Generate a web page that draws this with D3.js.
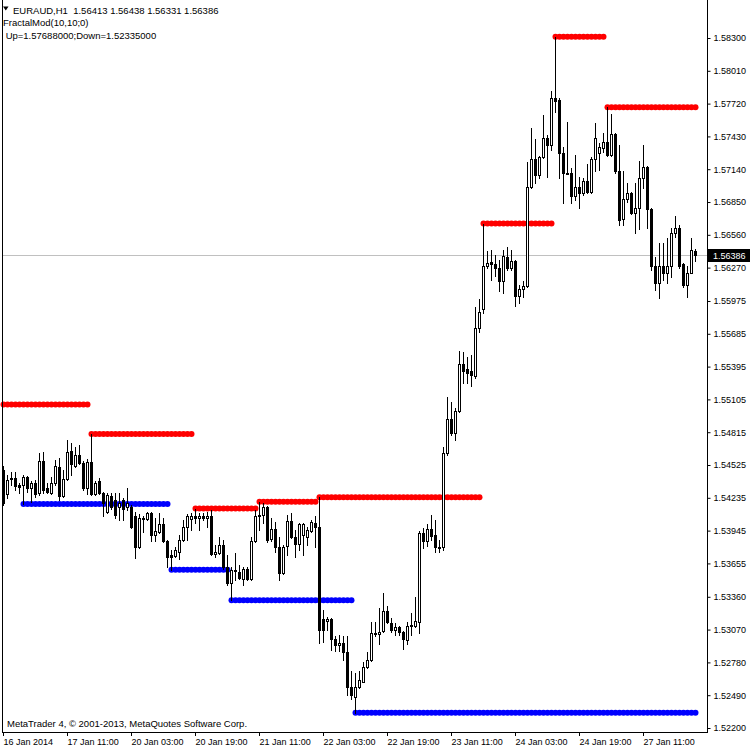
<!DOCTYPE html>
<html><head><meta charset="utf-8">
<script src="https://cdn.jsdelivr.net/npm/d3@7"></script>
<style>
body{margin:0;background:#fff}
svg{display:block}
text{font-family:"Liberation Sans",Arial,sans-serif;fill:#000;white-space:pre}
</style>
</head><body><svg id="c" width="750" height="750"></svg>
<script>
const symbolLabel = "EURAUD,H1";
const lastQuote = [1.56413, 1.56438, 1.56331, 1.56386];
const indicatorName = "FractalMod(10,10;0)";
const indicatorInfo = " Up=1.57688000;Down=1.52335000";
const copyright = "MetaTrader 4, \u00a9 2001-2013, MetaQuotes Software Corp.";
const currentPrice = 1.56386;

const open = [
1.5448,1.5427,1.5441,1.5441,1.5435,1.5435,1.5442,1.5432,1.5437,1.5428,
1.5456,1.5432,1.5428,1.5437,1.5451,1.5425,1.5440,1.5465,1.5452,1.5461,
1.5454,1.5432,1.5455,1.5427,1.5438,1.5428,1.5411,1.5425,1.5422,1.5415,
1.5422,1.5415,1.5415,1.5407,1.5380,1.5406,1.5405,1.5410,1.5391,1.5393,
1.5400,1.5385,1.5373,1.5372,1.5376,1.5386,1.5398,1.5405,1.5407,1.5406,
1.5407,1.5406,1.5407,1.5374,1.5375,1.5382,1.5362,1.5348,1.5360,1.5358,
1.5352,1.5361,1.5352,1.5385,1.5407,1.5408,1.5415,1.5387,1.5396,1.5380,
1.5357,1.5381,1.5403,1.5389,1.5383,1.5391,1.5389,1.5394,1.5401,1.5398,
1.5316,1.5315,1.5316,1.5299,1.5293,1.5295,1.5287,1.5256,1.5247,1.5256,
1.5261,1.5274,1.5280,1.5304,1.5303,1.5306,1.5323,1.5313,1.5307,1.5309,
1.5305,1.5298,1.5310,1.5310,1.5314,1.5392,1.5385,1.5396,1.5391,1.5380,
1.5380,1.5463,1.5493,1.5481,1.5500,1.5542,1.5537,1.5536,1.5531,1.5574,
1.5590,1.5628,1.5632,1.5630,1.5627,1.5615,1.5636,1.5627,1.5633,1.5602,
1.5608,1.5611,1.5698,1.5723,1.5709,1.5725,1.5742,1.5735,1.5777,1.5775,
1.5728,1.5711,1.5711,1.5690,1.5698,1.5693,1.5704,1.5694,1.5723,1.5728,
1.5733,1.5738,1.5727,1.5745,1.5712,1.5670,1.5688,1.5693,1.5675,1.5680,
1.5706,1.5716,1.5679,1.5628,1.5613,1.5628,1.5622,1.5628,1.5658,1.5662,
1.5630,1.5612,1.5622,1.56413];
const high = [
1.5452,1.5444,1.5446,1.5446,1.5437,1.5444,1.5443,1.5438,1.5439,1.5463,
1.5464,1.5437,1.5442,1.5457,1.5459,1.5448,1.5475,1.5472,1.5468,1.5470,
1.5456,1.5458,1.5480,1.5438,1.5441,1.5429,1.5428,1.5428,1.5428,1.5428,
1.5423,1.5432,1.5417,1.5411,1.5409,1.5407,1.5411,1.5411,1.5406,1.5410,
1.5406,1.5386,1.5377,1.5380,1.5391,1.5404,1.5409,1.5410,1.5414,1.5410,
1.5410,1.5411,1.5413,1.5382,1.5389,1.5386,1.5373,1.5362,1.5375,1.5364,
1.5362,1.5362,1.5389,1.5413,1.5420,1.5419,1.5416,1.5406,1.5402,1.5389,
1.5382,1.5408,1.5410,1.5395,1.5401,1.5401,1.5398,1.5404,1.5407,1.5424,
1.5324,1.5318,1.5317,1.5301,1.5302,1.5301,1.5301,1.5270,1.5269,1.5270,
1.5278,1.5287,1.5314,1.5314,1.5326,1.5339,1.5328,1.5317,1.5313,1.5310,
1.5306,1.5314,1.5322,1.5336,1.5394,1.5397,1.5400,1.5408,1.5404,1.5386,
1.5468,1.5513,1.5508,1.5503,1.5553,1.5552,1.5548,1.5550,1.5592,1.5599,
1.5666,1.5642,1.5643,1.5638,1.5634,1.5643,1.5645,1.5643,1.5634,1.5612,
1.5615,1.5720,1.5750,1.5741,1.5726,1.5762,1.5744,1.5783,1.5831,1.5777,
1.5734,1.5756,1.5715,1.5727,1.5707,1.5706,1.5719,1.5725,1.5755,1.5737,
1.5746,1.57688,1.5763,1.5746,1.5735,1.5712,1.5702,1.5694,1.5702,1.5721,
1.5735,1.5717,1.5680,1.5636,1.5649,1.5649,1.5653,1.5662,1.5673,1.5665,
1.5631,1.5628,1.5653,1.56438];
const low = [
1.5417,1.5423,1.5435,1.5430,1.5428,1.5418,1.5429,1.5420,1.5424,1.5426,
1.5428,1.5428,1.5427,1.5435,1.5422,1.5424,1.5439,1.5444,1.5451,1.5453,
1.5430,1.5427,1.5426,1.5426,1.5427,1.5407,1.5410,1.5414,1.5406,1.5404,
1.5404,1.5413,1.5397,1.5370,1.5379,1.5393,1.5404,1.5385,1.5385,1.5392,
1.5384,1.5362,1.5360,1.5371,1.5369,1.5385,1.5386,1.5395,1.5401,1.5395,
1.5404,1.5398,1.5373,1.5371,1.5374,1.5361,1.5346,1.5333,1.5351,1.5352,
1.5346,1.5351,1.5351,1.5384,1.5395,1.5401,1.5384,1.5385,1.5376,1.5351,
1.5356,1.5373,1.5388,1.5371,1.5377,1.5373,1.5382,1.5393,1.5380,1.5295,
1.5296,1.5307,1.5289,1.5288,1.5288,1.5280,1.5249,1.5246,1.52335,1.5255,
1.5261,1.5273,1.5279,1.5301,1.5294,1.5305,1.5313,1.5305,1.5302,1.5302,
1.5290,1.5294,1.5302,1.5309,1.5304,1.5379,1.5381,1.5386,1.5376,1.5376,
1.5377,1.5461,1.5479,1.5475,1.5499,1.5525,1.5525,1.5522,1.5529,1.5570,
1.5587,1.5627,1.5616,1.5620,1.5606,1.5605,1.5625,1.5625,1.5593,1.5596,
1.5601,1.5610,1.5697,1.5702,1.5706,1.5724,1.5707,1.5731,1.5765,1.5706,
1.5684,1.5710,1.5684,1.5687,1.5680,1.5691,1.5693,1.5693,1.5712,1.5713,
1.5729,1.5726,1.5726,1.5711,1.5665,1.5665,1.5685,1.5674,1.5658,1.5661,
1.5697,1.5662,1.5625,1.5607,1.5600,1.5616,1.5613,1.5619,1.5654,1.5627,
1.5610,1.5601,1.5622,1.56331];
const close = [
1.5419,1.5439,1.5440,1.5434,1.5433,1.5442,1.5432,1.5437,1.5427,1.5456,
1.5430,1.5429,1.5437,1.5452,1.5425,1.5440,1.5464,1.5453,1.5461,1.5454,
1.5432,1.5455,1.5427,1.5437,1.5428,1.5419,1.5426,1.5415,1.5408,1.5419,
1.5414,1.5419,1.5398,1.5380,1.5406,1.5405,1.5410,1.5391,1.5394,1.5400,
1.5385,1.5371,1.5371,1.5377,1.5386,1.5398,1.5407,1.5407,1.5406,1.5407,
1.5406,1.5407,1.5374,1.5376,1.5382,1.5362,1.5348,1.5360,1.5359,1.5353,
1.5361,1.5352,1.5385,1.5407,1.5408,1.5415,1.5386,1.5396,1.5380,1.5357,
1.5380,1.5403,1.5389,1.5383,1.5400,1.5400,1.5395,1.5402,1.5398,1.5307,
1.5307,1.5316,1.5299,1.5293,1.5295,1.5287,1.5256,1.5249,1.5256,1.5262,
1.5274,1.5280,1.5304,1.5303,1.5305,1.5323,1.5314,1.5307,1.5309,1.5305,
1.5299,1.5310,1.5311,1.5315,1.5392,1.5385,1.5396,1.5390,1.5380,1.5379,
1.5463,1.5493,1.5481,1.5500,1.5542,1.5536,1.5534,1.5532,1.5574,1.5588,
1.5628,1.5631,1.5630,1.5627,1.5615,1.5637,1.5627,1.5633,1.5602,1.5608,
1.5611,1.5698,1.5723,1.5709,1.5725,1.5742,1.5735,1.5777,1.5774,1.5728,
1.5711,1.5710,1.5690,1.5698,1.5693,1.5704,1.5694,1.5723,1.5742,1.5734,
1.5738,1.5727,1.5745,1.5712,1.5669,1.5688,1.5693,1.5675,1.5680,1.5706,
1.5716,1.5679,1.5628,1.5613,1.5628,1.5622,1.5628,1.5658,1.5662,1.5628,
1.5612,1.5622,1.5643,1.56386];

// Fractal levels: bar index where each level begins, and its price
const upStart = [0, 22, 48, 64, 79, 120, 138, 151];
const upLevel = [1.5506, 1.5480, 1.5414, 1.5420, 1.5424, 1.5666, 1.5831, 1.57688];
const downStart = [5, 42, 57, 88];
const downLevel = [1.5418, 1.5360, 1.5333, 1.52335];

const priceTicks = [1.58300,1.58010,1.57720,1.57430,1.57140,1.56850,1.56560,1.56270,
  1.55975,1.55685,1.55395,1.55105,1.54815,1.54525,1.54235,1.53945,1.53655,1.53360,
  1.53070,1.52780,1.52490,1.52200];
const timeTickIndex = [0,16,32,48,64,80,96,112,128,144,160];
const timeTickLabels = ["16 Jan 2014","17 Jan 11:00","20 Jan 03:00","20 Jan 19:00",
  "21 Jan 11:00","22 Jan 03:00","22 Jan 19:00","23 Jan 11:00","24 Jan 03:00",
  "24 Jan 19:00","27 Jan 11:00"];

const svg = d3.select("#c");
const N = open.length;
const plotLeft = 2, plotRight = 707, plotBottom = 732;

const x = d3.scaleLinear().domain([0, N - 1]).range([3, 3 + 4 * (N - 1)]);
const y = d3.scaleLinear().domain([1.52200, 1.58300]).range([728, 38]);
const ry = v => Math.round(y(v));

// current price line
svg.append("line").attr("x1", plotLeft).attr("x2", plotRight)
  .attr("y1", ry(currentPrice) + 0.5).attr("y2", ry(currentPrice) + 0.5)
  .attr("stroke", "#c0c0c0").attr("stroke-width", 1);

// fractal dots
function levelDots(starts, levels, color) {
  const pts = [];
  starts.forEach((s, k) => {
    const e = k + 1 < starts.length ? starts[k + 1] - 1 : N - 1;
    for (let i = s; i <= e; i++) pts.push({i, v: levels[k]});
  });
  svg.append("g").selectAll("circle").data(pts).join("circle")
    .attr("cx", d => x(d.i) + 0.5).attr("cy", d => y(d.v))
    .attr("r", 3).attr("fill", color);
}
levelDots(upStart, upLevel, "#ff0000");
levelDots(downStart, downLevel, "#0000ff");

// candles
const bars = d3.range(N).map(i => ({i, o: open[i], h: high[i], l: low[i], c: close[i]}));
const g = svg.append("g").attr("shape-rendering", "crispEdges");
g.selectAll("rect.wick").data(bars).join("rect").attr("class", "wick")
  .attr("x", d => x(d.i)).attr("width", 1)
  .attr("y", d => ry(d.h)).attr("height", d => ry(d.l) - ry(d.h) + 1)
  .attr("fill", "#000");
g.selectAll("rect.bear").data(bars.filter(d => d.c < d.o)).join("rect").attr("class", "bear")
  .attr("x", d => x(d.i) - 1).attr("width", 3)
  .attr("y", d => ry(d.o)).attr("height", d => Math.max(1, ry(d.c) - ry(d.o) + 1))
  .attr("fill", "#000");
g.selectAll("rect.bull").data(bars.filter(d => d.c >= d.o)).join("rect").attr("class", "bull")
  .attr("x", d => x(d.i) - 0.5).attr("width", 2)
  .attr("y", d => ry(d.c) + 0.5).attr("height", d => Math.max(0.01, ry(d.o) - ry(d.c)))
  .attr("fill", "#fff").attr("stroke", "#000").attr("stroke-width", 1);

// frame
svg.append("line").attr("x1", plotLeft + 0.5).attr("x2", plotLeft + 0.5).attr("y1", 0).attr("y2", plotBottom)
  .attr("stroke", "#000");
svg.append("line").attr("x1", plotRight + 0.5).attr("x2", plotRight + 0.5).attr("y1", 0).attr("y2", plotBottom + 1)
  .attr("stroke", "#000");
svg.append("line").attr("x1", plotLeft).attr("x2", plotRight + 1).attr("y1", plotBottom + 0.5).attr("y2", plotBottom + 0.5)
  .attr("stroke", "#000");

// right price axis
const ya = svg.append("g").attr("transform", `translate(${plotRight + 0.5},0)`)
  .call(d3.axisRight(y).tickValues(priceTicks).tickSize(3).tickPadding(3)
    .tickFormat(d => d.toFixed(5)));
ya.select(".domain").remove();
ya.selectAll("text").attr("font-size", 9).attr("font-family", '"Liberation Sans",Arial,sans-serif');

// current price label
const cpY = ry(currentPrice);
svg.append("rect").attr("x", plotRight + 1).attr("y", cpY - 6).attr("width", 43).attr("height", 13).attr("fill", "#000");
svg.append("text").attr("x", plotRight + 6).attr("y", cpY + 4).attr("font-size", 9)
  .style("fill", "#fff").text(currentPrice.toFixed(5));

// bottom time axis
const xa = svg.append("g").attr("transform", `translate(0,${plotBottom})`)
  .call(d3.axisBottom(x).tickValues(timeTickIndex).tickSize(4).tickPadding(3)
    .tickFormat((d, k) => timeTickLabels[k]));
xa.select(".domain").remove();
xa.selectAll("text").attr("text-anchor", "start").attr("font-size", 9)
  .attr("font-family", '"Liberation Sans",Arial,sans-serif');

// header texts
svg.append("path").attr("d", "M3,6.5 L8.5,6.5 L5.75,10.5 Z").attr("fill", "#000");
svg.append("text").attr("x", 13).attr("y", 13.5).attr("font-size", 9.5)
  .text(symbolLabel + "  " + lastQuote.map(v => v.toFixed(5)).join(" "));
svg.append("text").attr("x", 3).attr("y", 26).attr("font-size", 9.5).text(indicatorName);
svg.append("text").attr("x", 3).attr("y", 39).attr("font-size", 9.5).text(indicatorInfo);
svg.append("text").attr("x", 7).attr("y", 727).attr("font-size", 9.5).text(copyright);
</script>
</body></html>
